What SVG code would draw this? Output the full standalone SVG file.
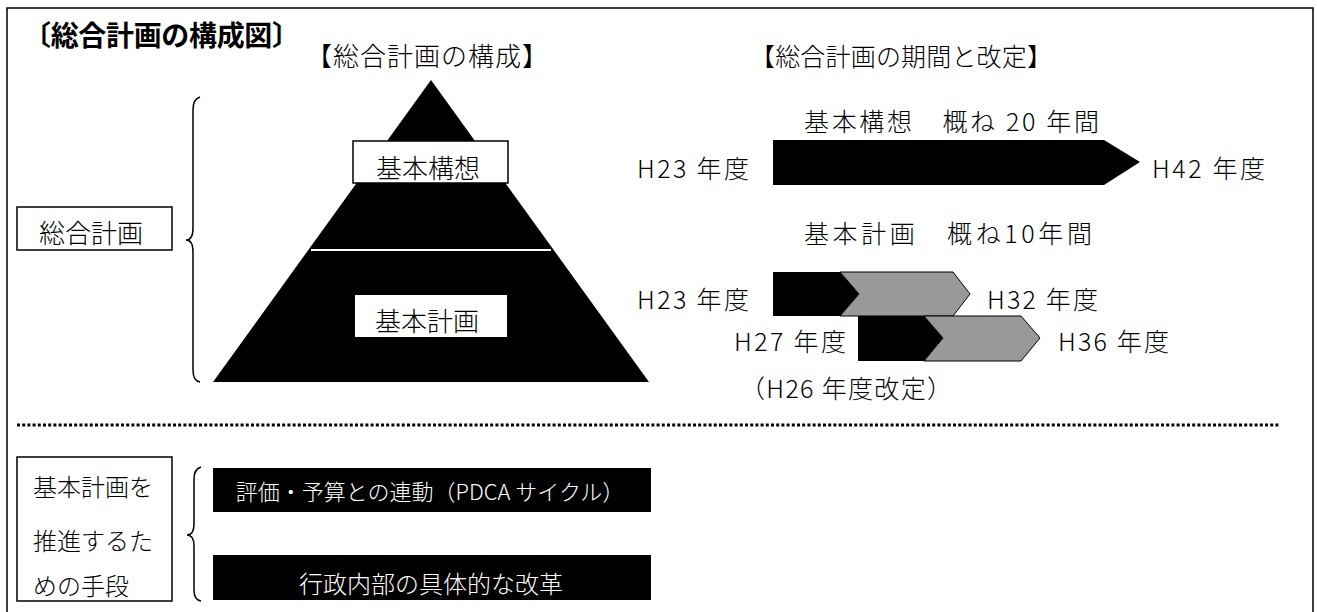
<svg xmlns="http://www.w3.org/2000/svg" width="1317" height="612" viewBox="0 0 1317 612">
<style>
text{font-family:"Noto Sans CJK JP","Noto Sans",sans-serif;fill:#000;font-weight:300}
.t{font-size:26px}
.h{font-size:25px}
.lbl{font-size:25px}
.w{fill:#fff}
.box{fill:#fff;stroke:#000;stroke-width:1.5}
.brace{fill:none;stroke:#000;stroke-width:1.5}
.gray{fill:#999;stroke:#000;stroke-width:1}
</style>
<rect x="7" y="8" width="1306" height="620" fill="#fff" stroke="#000" stroke-width="1.5"/>
<g id="title"><text x="23" y="46" textLength="277" style="font-size:28px;font-weight:bold">〔総合計画の構成図〕</text></g>
<g id="heading-structure"><text class="t" x="306" y="66" textLength="242">【総合計画の構成】</text></g>
<g id="heading-period"><text class="h" x="750" y="66" textLength="302">【総合計画の期間と改定】</text></g>

<g id="sogo-keikaku">
<rect class="box" x="17" y="207" width="155" height="43"/>
<text class="t" x="91" y="243" text-anchor="middle">総合計画</text>
</g>

<g id="pyramid">
<polygon points="431,80 213,382 649,382" fill="#000"/>
<line x1="311" y1="250" x2="551" y2="250" stroke="#fff" stroke-width="2"/>
</g>
<g id="kihon-koso">
<rect class="box" x="353" y="141" width="155" height="42"/>
<text class="t" x="428" y="178" text-anchor="middle">基本構想</text>
</g>
<g id="kihon-keikaku">
<rect x="355" y="295" width="152" height="42" fill="#fff"/>
<text class="t" x="427" y="331" text-anchor="middle">基本計画</text>
</g>

<g id="timeline-koso">
<text class="lbl" x="804" y="131" textLength="295">基本構想　概ね 20 年間</text>
<text class="lbl" x="637" y="178" textLength="112">H23 年度</text>
<polygon points="773,140 1104,140 1140,162 1104,185 773,185" fill="#000"/>
<text class="lbl" x="1152" y="178" textLength="113">H42 年度</text>
</g>

<g id="timeline-keikaku">
<text class="lbl" x="804" y="243" textLength="288">基本計画　概ね10年間</text>
<text class="lbl" x="637" y="309" textLength="112">H23 年度</text>
<polygon points="773,272 840,272 859,294 840,316 773,316" fill="#000"/>
<polygon class="gray" points="840,272 953,272 970,294 953,316 840,316 859,294"/>
<text class="lbl" x="987" y="309" textLength="111">H32 年度</text>
<text class="lbl" x="734" y="351" textLength="112">H27 年度</text>
<polygon points="858,316 924,316 943,338 924,361 858,361" fill="#000"/>
<polygon class="gray" points="924,316 1021,316 1040,338 1021,361 924,361 943,338"/>
<text class="lbl" x="1058" y="351" textLength="111">H36 年度</text>
<text class="lbl" x="740" y="398" textLength="212">（H26 年度改定）</text>
</g>

<g id="divider">
<line x1="17" y1="425" x2="1279" y2="425" stroke="#000" stroke-width="3" stroke-dasharray="3 2.2"/>
</g>

<g id="shudan">
<rect class="box" x="17" y="457" width="155" height="144"/>
<text class="lbl" x="33" y="496" style="font-size:24px">基本計画を</text>
<text class="lbl" x="33" y="550" style="font-size:24px">推進するた</text>
<text class="lbl" x="33" y="595" style="font-size:24px">めの手段</text>
</g>
<g id="pdca">
<rect x="213" y="468" width="438" height="44" fill="#000"/>
<text class="w" x="430" y="500" text-anchor="middle" style="font-size:22px">評価・予算との連動（PDCA サイクル）</text>
</g>
<g id="kaikaku">
<rect x="213" y="555" width="438" height="45" fill="#000"/>
<text class="w" x="431" y="593" text-anchor="middle" style="font-size:24px">行政内部の具体的な改革</text>
</g>

<g id="connectors">
<path class="brace" d="M200,97 Q193,99 193,110 L193,228 Q193,240 186,240 Q193,240 193,252 L193,370 Q193,381 200,382"/>
<path class="brace" d="M201,467 Q194,469 194,479 L194,524 Q194,535 187,535 Q194,535 194,546 L194,590 Q194,600 201,601"/>
</g>
</svg>
